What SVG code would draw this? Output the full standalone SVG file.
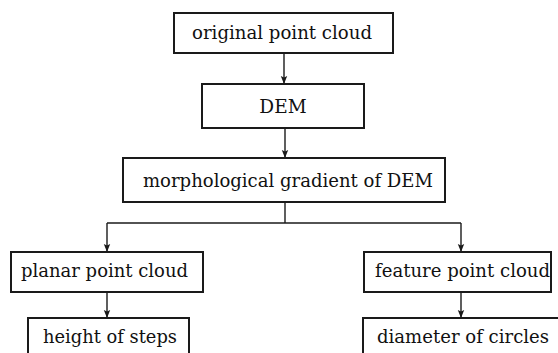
<svg xmlns="http://www.w3.org/2000/svg" width="558" height="353" viewBox="0 0 558 353">
  <style>
    .box { fill: #fff; stroke: #1a1a1a; stroke-width: 2; }
    .lbl { font-family: "DejaVu Serif", "Liberation Serif", serif; font-size: 18.5px; fill: #111; }
    .wire { fill: none; stroke: #1a1a1a; stroke-width: 1.4; }
  </style>
  <defs>
    <marker id="arrow" markerUnits="userSpaceOnUse" markerWidth="8" markerHeight="12" viewBox="0 0 8 12" refX="8" refY="6" orient="auto">
      <path d="M0,2.8 L8,6 L0,9.2 L1.5,6 z" fill="#1a1a1a"/>
    </marker>
  </defs>
  <rect width="558" height="353" fill="#fff"/>

  <g id="connectors">
    <line class="wire" x1="284" y1="53" x2="284" y2="84" marker-end="url(#arrow)"/>
    <line class="wire" x1="285" y1="128" x2="285" y2="158" marker-end="url(#arrow)"/>
    <polyline class="wire" points="285,202 285,223"/>
    <polyline class="wire" points="107,223 461,223"/>
    <line class="wire" x1="107" y1="223" x2="107" y2="252" marker-end="url(#arrow)"/>
    <line class="wire" x1="461" y1="223" x2="461" y2="252" marker-end="url(#arrow)"/>
    <line class="wire" x1="107" y1="292" x2="107" y2="318" marker-end="url(#arrow)"/>
    <line class="wire" x1="461" y1="292" x2="461" y2="318" marker-end="url(#arrow)"/>
  </g>

  <g id="original">
    <rect class="box" x="174" y="13" width="219" height="40"/>
    <text class="lbl" x="192" y="39" textLength="180" lengthAdjust="spacingAndGlyphs">original point cloud</text>
  </g>
  <g id="dem">
    <rect class="box" x="202" y="84" width="162" height="44"/>
    <text class="lbl" x="283" y="113" text-anchor="middle">DEM</text>
  </g>
  <g id="gradient">
    <rect class="box" x="123" y="158" width="322" height="44"/>
    <text class="lbl" x="143" y="187" textLength="290" lengthAdjust="spacingAndGlyphs">morphological gradient of DEM</text>
  </g>
  <g id="planar">
    <rect class="box" x="11" y="252" width="192" height="40"/>
    <text class="lbl" x="21" y="277" textLength="167" lengthAdjust="spacingAndGlyphs">planar point cloud</text>
  </g>
  <g id="feature">
    <rect class="box" x="364" y="252" width="187" height="40"/>
    <text class="lbl" x="375" y="277" textLength="175" lengthAdjust="spacingAndGlyphs">feature point cloud</text>
  </g>
  <g id="height">
    <rect class="box" x="28" y="318" width="161" height="50"/>
    <text class="lbl" x="43" y="343" textLength="134" lengthAdjust="spacingAndGlyphs">height of steps</text>
  </g>
  <g id="diameter">
    <rect class="box" x="363" y="318" width="200" height="50"/>
    <text class="lbl" x="377" y="343" textLength="172" lengthAdjust="spacingAndGlyphs">diameter of circles</text>
  </g>
</svg>
